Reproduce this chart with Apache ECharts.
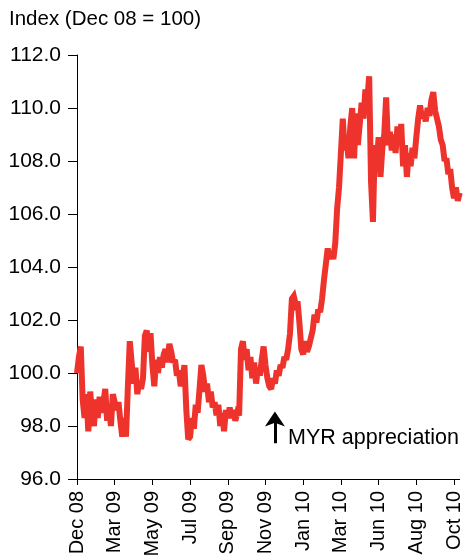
<!DOCTYPE html>
<html>
<head>
<meta charset="utf-8">
<script src="https://cdn.jsdelivr.net/npm/echarts@6/dist/echarts.min.js"></script>
<style>
  html, body { margin: 0; padding: 0; background: #fff; }
  #chart { width: 464px; height: 560px; }
</style>
</head>
<body>
<div id="chart"></div>
<script>
// Axis tick labels, one every 20 observations
const tickLabels = ['Dec 08', 'Mar 09', 'May 09', 'Jul 09', 'Sep 09', 'Nov 09',
                    'Jan 10', 'Mar 10', 'Jun 10', 'Aug 10', 'Oct 10'];
const tickStep = 20;

// MYR index, Dec 08 = 100
const indexValues = [
  100.0, 100.6, 101.0, 99.0, 98.3, 99.2, 97.8, 99.3, 98.4, 98.0, 99.0, 98.3, 99.1, 98.5, 98.9, 99.4, 98.2, 98.7, 98.0, 99.2,
  99.2, 98.6, 98.9, 98.2, 97.6, 98.3, 97.6, 99.5, 101.2, 100.4, 99.6, 100.2, 99.2, 99.7, 99.4, 99.8, 101.4, 101.6, 100.8, 101.5,
  100.3, 99.5, 100.5, 100.0, 100.6, 100.2, 100.7, 100.9, 100.4, 101.1, 100.8, 100.4, 100.5, 99.9, 100.1, 99.5, 99.8, 100.3, 98.6, 97.5,
  97.6, 98.3, 97.9, 98.8, 98.5, 99.4, 100.3, 99.9, 99.3, 99.6, 98.9, 99.3, 98.7, 98.9, 98.4, 98.8, 98.0, 98.5, 97.8, 98.6,
  98.3, 98.7, 98.3, 98.6, 98.2, 98.5, 98.4, 100.9, 101.2, 100.5, 100.9, 100.1, 100.6, 99.8, 100.4, 99.6, 100.2, 99.9, 100.5, 101.0,
  100.3, 99.8, 99.5, 99.4, 99.8, 99.6, 100.1, 99.9, 100.3, 100.2, 100.6, 100.5, 100.9, 101.5, 102.8, 102.9, 102.6, 102.7, 101.9, 100.9,
  100.7, 101.2, 100.8, 101.0, 101.3, 101.6, 102.2, 101.9, 102.4, 102.3, 102.8, 103.5, 104.1, 104.7, 104.3, 104.6, 104.3, 104.9, 106.2, 107.0,
  108.3, 109.6, 108.4, 108.9, 108.1, 109.3, 110.0, 108.1, 109.8, 108.6, 109.4, 110.2, 109.6, 110.7, 110.3, 111.2, 107.2, 105.7, 108.6, 107.9,
  108.9, 107.4, 108.5, 109.0, 110.4, 108.6, 109.1, 108.4, 109.0, 108.3, 109.3, 108.6, 109.4, 107.8, 108.6, 107.4, 108.3, 107.8, 108.5, 108.1,
  108.9, 109.6, 110.1, 109.6, 109.8, 109.5, 110.0, 109.7, 110.3, 110.6, 109.9, 109.6, 109.3, 108.8, 108.6, 108.0, 108.1, 107.5, 107.7, 107.0,
  106.6, 107.0, 106.5, 106.8
];

// Annotation: arrow position (observation index), shaft span and head centre
const arrowIndex = 105;
const arrowFrom = 97.35;
const arrowTo = 98.45;
const arrowHead = 98.55;
const noteText = 'MYR appreciation';
const noteIndex = 112;
const noteValue = 97.55;

const categories = indexValues.map((_, i) =>
  i % tickStep === 0 ? tickLabels[i / tickStep] : '');

const font = '"Liberation Sans", Arial, Helvetica, sans-serif';

const chart = echarts.init(document.getElementById('chart'), null, { renderer: 'canvas' });
chart.setOption({
  animation: false,
  backgroundColor: '#fff',
  title: {
    text: 'Index (Dec 08 = 100)',
    left: 9,
    top: 9,
    padding: 0,
    textStyle: { fontFamily: font, fontSize: 20.5, fontWeight: 'normal', color: '#000' }
  },
  grid: { left: 77, right: 2, top: 55, bottom: 81, containLabel: false },
  xAxis: {
    type: 'category',
    data: categories,
    boundaryGap: false,
    axisLine: { lineStyle: { color: '#000', width: 1 } },
    axisTick: { show: true, interval: tickStep - 1, length: 6, lineStyle: { color: '#000' } },
    axisLabel: {
      interval: tickStep - 1,
      rotate: 90,
      margin: 12,
      fontFamily: font,
      fontSize: 20,
      color: '#000'
    },
    splitLine: { show: false }
  },
  yAxis: {
    type: 'value',
    min: 96,
    max: 112,
    interval: 2,
    axisLine: { show: true, lineStyle: { color: '#000', width: 1 } },
    axisTick: { show: true, length: 9, lineStyle: { color: '#000' } },
    axisLabel: {
      margin: 16,
      fontFamily: font,
      fontSize: 21,
      color: '#000',
      formatter: v => v.toFixed(1)
    },
    splitLine: { show: false }
  },
  series: [{
    type: 'line',
    data: indexValues,
    showSymbol: false,
    symbol: 'none',
    lineStyle: { color: '#EE332D', width: 6, join: 'miter', miterLimit: 2.5 },
    z: 2,
    markLine: {
      silent: true,
      symbol: ['none', 'none'],
      lineStyle: { color: '#000', width: 3, type: 'solid' },
      label: { show: false },
      data: [[
        { coord: [arrowIndex, arrowFrom] },
        { coord: [arrowIndex, arrowTo] }
      ]]
    },
    markPoint: {
      silent: true,
      data: [
        {
          coord: [arrowIndex, arrowHead],
          symbol: 'arrow',
          symbolSize: [15, 15],
          itemStyle: { color: '#000' },
          label: { show: false }
        },
        {
          coord: [noteIndex, noteValue],
          symbol: 'circle',
          symbolSize: 0,
          label: {
            show: true,
            position: 'right',
            distance: 0,
            formatter: noteText,
            fontFamily: font,
            fontSize: 21.5,
            color: '#000'
          }
        }
      ]
    }
  }]
});
</script>
</body>
</html>
